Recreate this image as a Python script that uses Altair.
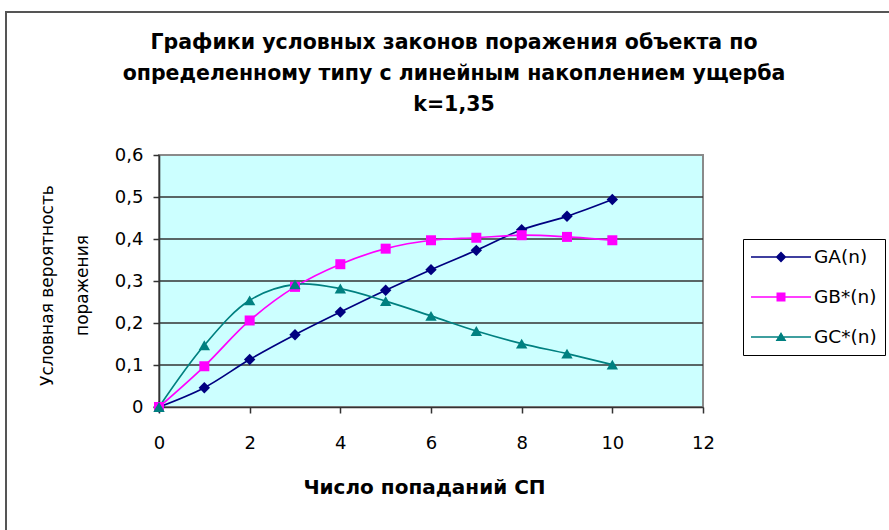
import altair as alt
import pandas as pd

# Number of hits n and the three conditional kill laws
n_hits = list(range(11))
ga = [0, 0.046, 0.113, 0.172, 0.226, 0.278, 0.327, 0.373, 0.422, 0.454, 0.494]
gb = [0, 0.097, 0.206, 0.286, 0.340, 0.377, 0.397, 0.403, 0.409, 0.405, 0.397]
gc = [0, 0.147, 0.254, 0.292, 0.282, 0.252, 0.217, 0.181, 0.151, 0.127, 0.101]

series_names = ["GA(n)", "GB*(n)", "GC*(n)"]
series_colors = ["#000080", "#FF00FF", "#008080"]
marker_shapes = ["diamond", "square", "triangle-up"]
marker_sizes = [130, 100, 130]

x_ticks = [0, 2, 4, 6, 8, 10, 12]
y_ticks = [0, 0.1, 0.2, 0.3, 0.4, 0.5, 0.6]
grid_values = [0.1, 0.2, 0.3, 0.4, 0.5]

# Legend symbols: a short line segment with the series marker on top
legend_paths = [
    "M-1,-0.025L1,-0.025L1,0.025L-1,0.025Z M0,-0.18L0.18,0L0,0.18L-0.18,0Z",
    "M-1,-0.025L1,-0.025L1,0.025L-1,0.025Z M-0.15,-0.15L0.15,-0.15L0.15,0.15L-0.15,0.15Z",
    "M-1,-0.025L1,-0.025L1,0.025L-1,0.025Z M0,-0.17L0.18,0.13L-0.18,0.13Z",
]

rows = []
for name, vals in zip(series_names, [ga, gb, gc]):
    for n, v in zip(n_hits, vals):
        rows.append({"n": n, "p": v, "series": name})
df = pd.DataFrame(rows)

FONT = "DejaVu Sans"
W, H = 544, 252
LEFT, TOP = 159, 155

xenc = alt.X(
    "n:Q",
    scale=alt.Scale(domain=[0, 12], nice=False),
    axis=alt.Axis(
        values=x_ticks,
        title="Число попаданий СП",
        titleFont=FONT,
        titleFontSize=20,
        titleFontWeight="bold",
        titleX=265,
        titleY=80,
        titleBaseline="middle",
        labelPadding=21,
        labelFlush=False,
        format="d",
    ),
)
yenc = alt.Y(
    "p:Q",
    scale=alt.Scale(domain=[0, 0.6], nice=False),
    axis=alt.Axis(
        values=y_ticks,
        title=["Условная вероятность", "поражения"],
        titleFont=FONT,
        titleFontSize=17,
        titleFontWeight="normal",
        titleAngle=270,
        titleX=-107,
        titleY=130,
        titleAlign="center",
        titleBaseline="alphabetic",
        titleLineHeight=35,
        labelPadding=10,
        labelFlush=False,
        labelExpr="datum.value == 0 ? '0' : replace(format(datum.value, '.1f'), '.', ',')",
    ),
)

legend_kw = dict(
    title=None,
    orient="none",
    legendX=743 - LEFT,
    legendY=239 - TOP,
    padding=8,
    strokeColor="#000000",
    fillColor="#FFFFFF",
    labelFont=FONT,
    labelFontSize=18.5,
    labelColor="#000000",
    labelOffset=3,
    rowPadding=20,
    symbolSize=3600,
    symbolStrokeWidth=0,
    symbolOpacity=1,
    clipHeight=20,
)

color_scale = alt.Scale(domain=series_names, range=series_colors)
cenc = alt.Color("series:N", scale=color_scale, legend=alt.Legend(**legend_kw))

base = alt.Chart(df)

# Outer frame of the chart area
frame = alt.Chart(alt.Data(values=[{"k": 0}])).mark_rect(
    fillOpacity=0, stroke="#555555", strokeWidth=2
).encode(
    x=alt.value(6 - LEFT), x2=alt.value(889 + 40 - LEFT),
    y=alt.value(12 - TOP), y2=alt.value(530 + 40 - TOP),
)

grid = alt.Chart(pd.DataFrame({"p": grid_values})).mark_rule(
    color="#333333", strokeWidth=1.6
).encode(y=yenc)

# Carries the legend (line + marker symbols); draws no marks itself
legend_layer = base.transform_filter("false").mark_point(filled=True).encode(
    x=xenc, y=yenc,
    color=cenc,
    shape=alt.Shape(
        "series:N",
        scale=alt.Scale(domain=series_names, range=legend_paths),
        legend=alt.Legend(**legend_kw),
    ),
)

lines = base.mark_line(interpolate="catmull-rom", strokeWidth=1.7).encode(
    x=xenc, y=yenc, color=cenc,
)

points = []
for name, shp, sz in zip(series_names, marker_shapes, marker_sizes):
    points.append(
        base.transform_filter(alt.datum.series == name)
        .mark_point(shape=shp, filled=True, size=sz, opacity=1)
        .encode(x=xenc, y=yenc, color=cenc)
    )

chart = (
    alt.layer(frame, grid, legend_layer, lines, *points)
    .properties(
        width=W,
        height=H,
        autosize="none",
        padding={"left": LEFT, "top": TOP, "right": 889 - LEFT - W, "bottom": 530 - TOP - H},
        title=alt.TitleParams(
            text=[
                "Графики условных законов поражения объекта по",
                "определенному типу с линейным накоплением ущерба",
                "k=1,35",
            ],
            font=FONT,
            fontSize=20.5,
            fontWeight="bold",
            lineHeight=31,
            anchor="middle",
            dx=23,
            offset=-104,
            color="#000000",
        ),
    )
    .configure(background="#FFFFFF", font=FONT)
    .configure_view(fill="#CCFFFF", stroke="#8a8a8a", strokeWidth=2)
    .configure_axis(
        grid=False,
        domainColor="#333333",
        domainWidth=1.6,
        tickColor="#333333",
        tickWidth=1.5,
        tickSize=6,
        labelFont=FONT,
        labelFontSize=18,
        labelColor="#000000",
        titleColor="#000000",
    )
)

chart.save("out.html", embed_options={"renderer": "svg", "actions": False})
